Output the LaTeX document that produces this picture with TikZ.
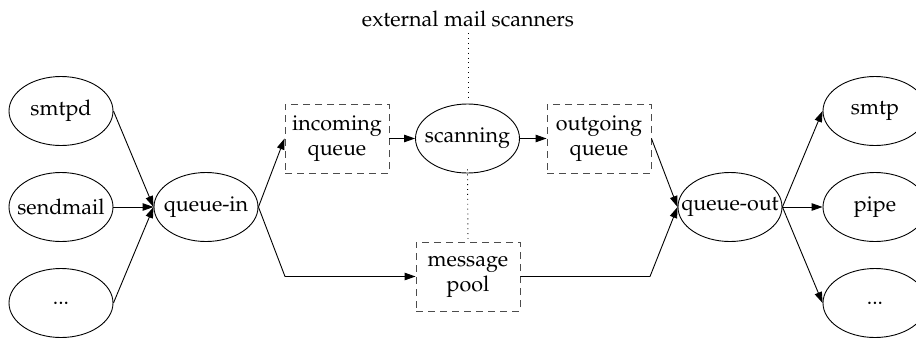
\documentclass[tikz,border=0pt]{standalone}
\usepackage[T1]{fontenc}
\usepackage{mathpazo}
\usetikzlibrary{shapes.geometric,arrows.meta}
\begin{document}
\begin{tikzpicture}[x=1pt,y=-1pt,
  font=\fontsize{21.5}{25}\selectfont,
  proc/.style={ellipse, draw, line width=0.9pt, minimum width=104pt, minimum height=69pt, inner sep=0pt},
  qbox/.style={rectangle, draw=black!70, line width=0.9pt, dash pattern=on 7pt off 5pt, minimum width=104pt, minimum height=69pt, inner sep=0pt, align=center},
  flow/.style={line width=0.9pt, -{Triangle[length=11pt,width=7.5pt]}},
  plain/.style={line width=0.9pt},
  dotline/.style={line width=0.9pt, dash pattern=on 0.9pt off 4pt}]
\useasboundingbox (0,0) rectangle (916,338);
\clip (0,0) rectangle (916,338);
% left sources
\node[proc] (smtpd) at (61,111) {\makebox[0pt]{smtpd}};
\node[proc] (sendmail) at (61,207) {\makebox[0pt]{sendmail}};
\node[proc] (dotsl) at (61,303) {\makebox[0pt]{...}};
\node[proc] (qin) at (206,207) {\makebox[0pt]{queue-in}};
% middle
\node[qbox] (inq) at (337,138.5) {incoming\\queue};
\node[proc] (scan) at (467.5,138.5) {\makebox[0pt]{scanning}};
\node[qbox] (outq) at (599,138.5) {outgoing\\queue};
\node[qbox] (pool) at (468,276.5) {message\\pool};
\node (ext) at (468,19) {external mail scanners};
% right
\node[proc] (qout) at (730,207) {\makebox[0pt]{queue-out}};
\node[proc] (smtp) at (875,111) {\makebox[0pt]{smtp}};
\node[proc] (pipe) at (875,207) {\makebox[0pt]{pipe}};
\node[proc] (dotsr) at (875,303) {\makebox[0pt]{...}};
% bend points
\coordinate (b1) at (285,276.5);
\coordinate (b2) at (650,276.5);
\coordinate (d1) at (468,33);
\coordinate (d2) at (468,98);
% edges
\draw[flow] (smtpd.east) -- (qin.west);
\draw[flow] (sendmail.east) -- (qin.west);
\draw[flow] (dotsl.east) -- (qin.west);
\draw[flow] (qin.east) -- (inq.west);
\draw[flow] (qin.east) -- (b1) -- (pool.west);
\draw[flow] (inq.east) -- (scan.west);
\draw[flow] (scan.east) -- (outq.west);
\draw[flow] (outq.east) -- (qout.west);
\draw[flow] (pool.east) -- (b2) -- (qout.west);
\draw[flow] (qout.east) -- (smtp.west);
\draw[flow] (qout.east) -- (pipe.west);
\draw[flow] (qout.east) -- (dotsr.west);
% dotted links to external scanners
\draw[dotline] (d1) -- (d2);
\draw[dotline] ([yshift=4pt]scan.south) -- (pool.north);
\end{tikzpicture}
\end{document}
